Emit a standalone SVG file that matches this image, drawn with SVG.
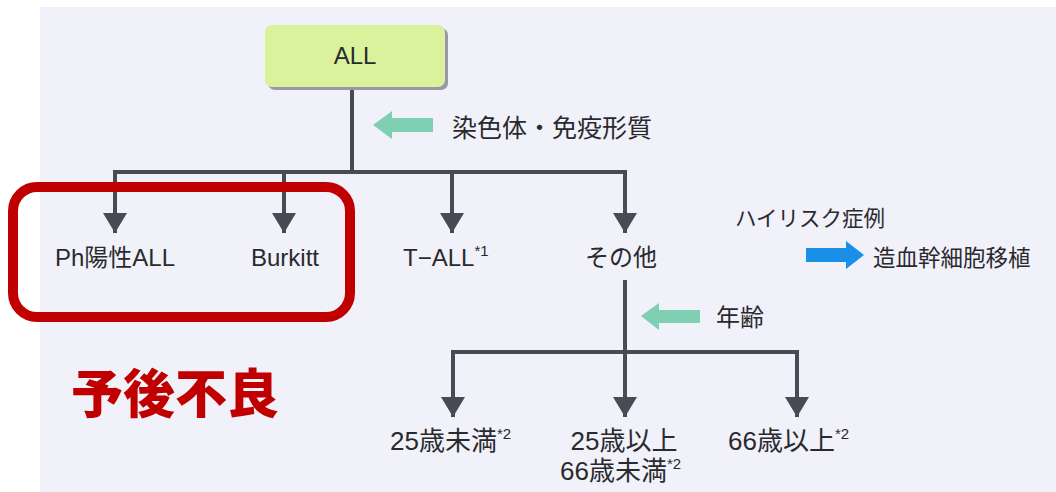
<svg xmlns="http://www.w3.org/2000/svg" width="1056" height="492" viewBox="0 0 1056 492">
  <defs>
    <style>
      .t { font-family: "Liberation Sans", "Noto Sans CJK JP", sans-serif; font-size: 24px; fill: #2a2a2e; }
      .b { font-size: 26px; }
      .sup { font-size: 15px; }
      .ln { stroke: #4a4a55; stroke-width: 4; fill: none; }
      .head { fill: #4a4a55; }
    </style>
    <marker id="ah" markerWidth="5" markerHeight="6" refX="5" refY="3" orient="auto" markerUnits="strokeWidth" viewBox="0 0 5 6">
      <path d="M0,0 L5,3 L0,6 Z" class="head"/>
    </marker>
  </defs>
  <rect x="0" y="0" width="1056" height="492" fill="#ffffff"/>
  <rect x="40" y="7" width="1016" height="485" fill="#f1f1f9"/>

  <g id="connectors">
    <path class="ln" d="M352,88 V172"/>
    <path class="ln" d="M113,172 H627"/>
    <path class="ln" d="M115,172 V233" marker-end="url(#ah)"/>
    <path class="ln" d="M284,172 V233" marker-end="url(#ah)"/>
    <path class="ln" d="M452,172 V233" marker-end="url(#ah)"/>
    <path class="ln" d="M625,172 V233" marker-end="url(#ah)"/>
    <path class="ln" d="M625,280 V352"/>
    <path class="ln" d="M451,352 H799"/>
    <path class="ln" d="M453,352 V417" marker-end="url(#ah)"/>
    <path class="ln" d="M625,352 V417" marker-end="url(#ah)"/>
    <path class="ln" d="M797,352 V417" marker-end="url(#ah)"/>
  </g>

  <g id="node-all">
    <rect x="268" y="28" width="180" height="62" rx="7" fill="#9a98a8"/>
    <rect x="265" y="25" width="180" height="62" rx="7" fill="#d9f29b"/>
    <text class="t" x="355" y="64" text-anchor="middle">ALL</text>
  </g>

  <g id="label-chromosome">
    <path d="M373,125 L392,111 L392,118 L433,118 L433,132 L392,132 L392,139 Z" fill="#7fcfb3"/>
    <text class="t" x="452" y="137" style="font-size:25px">染色体・免疫形質</text>
  </g>

  <g id="node-ph">
    <text class="t" x="115" y="266" text-anchor="middle">Ph陽性ALL</text>
  </g>
  <g id="node-burkitt">
    <text class="t" x="285" y="266" text-anchor="middle">Burkitt</text>
  </g>
  <g id="node-tall">
    <text class="t" x="403" y="266">T−ALL<tspan class="sup" dy="-10">*1</tspan></text>
  </g>
  <g id="node-other">
    <text class="t" x="621" y="266" text-anchor="middle">その他</text>
  </g>

  <g id="poor-prognosis">
    <rect x="13" y="187" width="337" height="130" rx="24" fill="none" stroke="#c00000" stroke-width="10"/>
    <text x="71" y="413" font-family="'Noto Sans CJK JP', sans-serif" font-weight="900" font-size="52" fill="#c00000">予後不良</text>
  </g>

  <g id="high-risk">
    <text class="t" x="735" y="226" style="font-size:21.5px">ハイリスク症例</text>
    <path d="M806,248 L846,248 L846,241 L864,255 L846,269 L846,262 L806,262 Z" fill="#1a8fe8"/>
    <text class="t" x="873" y="266" style="font-size:22.5px">造血幹細胞移植</text>
  </g>

  <g id="label-age">
    <path d="M641,316 L659,303 L659,310 L700,310 L700,323 L659,323 L659,330 Z" fill="#7fcfb3"/>
    <text class="t" x="716" y="326">年齢</text>
  </g>

  <g id="node-under25">
    <text class="t b" x="390" y="450">25歳未満<tspan class="sup" dy="-11">*2</tspan></text>
  </g>
  <g id="node-25to66">
    <text class="t b" x="624" y="450" text-anchor="middle">25歳以上</text>
    <text class="t b" x="560" y="480">66歳未満<tspan class="sup" dy="-11">*2</tspan></text>
  </g>
  <g id="node-over66">
    <text class="t b" x="728" y="450">66歳以上<tspan class="sup" dy="-11">*2</tspan></text>
  </g>
</svg>
